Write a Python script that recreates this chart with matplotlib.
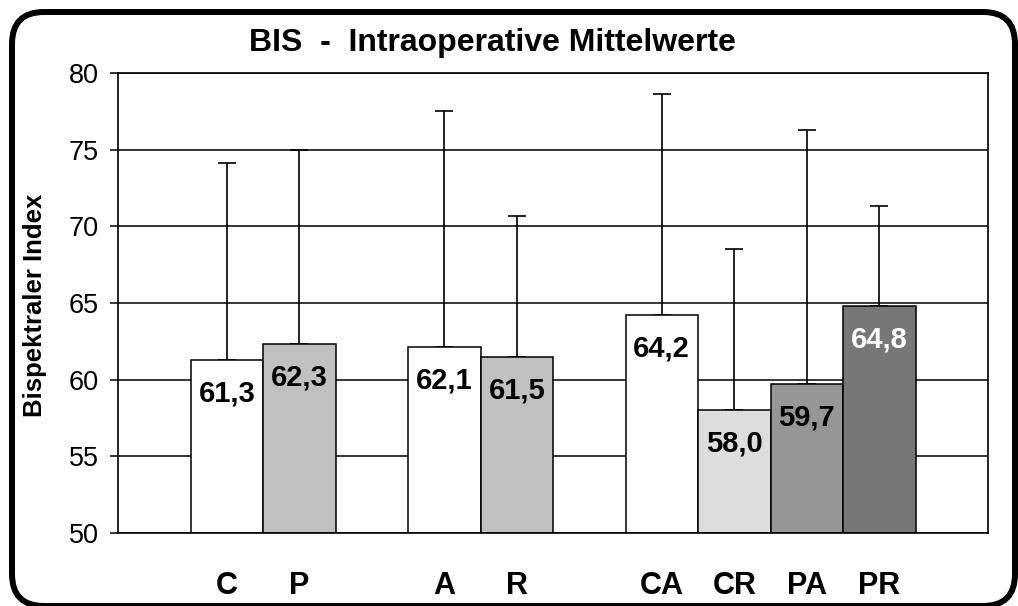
import matplotlib
matplotlib.use("Agg")
import matplotlib.pyplot as plt
from matplotlib.patches import FancyBboxPatch
import numpy as np

plt.rcParams['font.family'] = ['Liberation Sans', 'DejaVu Sans']

# ---- data ----
categories = ["C", "P", "A", "R", "CA", "CR", "PA", "PR"]
groups = [["C", "P"], ["A", "R"], ["CA", "CR", "PA", "PR"]]
means = [61.3, 62.3, 62.1, 61.5, 64.2, 58.0, 59.7, 64.8]
sd = [12.8, 12.7, 15.4, 9.2, 14.4, 10.5, 16.6, 6.5]
bar_colors = ["#ffffff", "#c0c0c0", "#ffffff", "#c0c0c0",
              "#ffffff", "#dddddd", "#969696", "#777777"]
label_colors = ["black"] * 7 + ["white"]
yticks = [50, 55, 60, 65, 70, 75, 80]
title = "BIS  -  Intraoperative Mittelwerte"
ylabel = "Bispektraler Index"

# slot positions: one empty slot before each group and after the last
positions = []
slot = 0
for g in groups:
    slot += 1
    for _ in g:
        positions.append(slot + 0.5)
        slot += 1
n_slots = slot + 1

fig = plt.figure(figsize=(10.18, 6.06), dpi=100)

# background frame
bg = fig.add_axes([0, 0, 1, 1])
bg.set_xlim(0, 1018)
bg.set_ylim(606, 0)
bg.axis("off")
bg.add_patch(FancyBboxPatch((12, 12), 1003, 594,
                            boxstyle="round,pad=0,rounding_size=32",
                            fill=False, edgecolor="black", linewidth=4.3,
                            clip_on=False))

ax = fig.add_axes([118 / 1018, 1 - 533 / 606, 870 / 1018, 460 / 606])
ax.set_xlim(0, n_slots)
ax.set_ylim(50, 80)
ax.set_axisbelow(True)

bars = ax.bar(positions, [m - 50 for m in means], bottom=50, width=1.0,
              color=bar_colors, edgecolor="black", linewidth=1.1, zorder=2)
ax.errorbar(positions, means, yerr=[np.zeros(len(sd)), sd], fmt="none",
            ecolor="black", elinewidth=1.2, capsize=6.5, capthick=1.2, zorder=1.5)

for x, m, c in zip(positions, means, label_colors):
    ax.annotate(f"{m:.1f}".replace(".", ","), (x, m), xytext=(0, -24),
                textcoords="offset points", ha="center", va="center",
                fontsize=21, fontweight="bold", color=c, zorder=3)

ax.set_yticks(yticks)
ax.set_yticklabels([str(t) for t in yticks], fontsize=19.5)
ax.yaxis.grid(True, color="black", linewidth=1.1)
ax.tick_params(axis="y", direction="out", length=6, width=1.1, pad=8)
ax.set_xticks(positions)
ax.set_xticklabels(categories, fontsize=22, fontweight="bold")
ax.tick_params(axis="x", length=0, pad=27)
for s in ax.spines.values():
    s.set_linewidth(1.2)
    s.set_color("black")

fig.text(492 / 1018, 1 - 43 / 606, title, ha="center", va="center",
         fontsize=23, fontweight="bold")
fig.text(35 / 1018, 1 - 305 / 606, ylabel, ha="center", va="center",
         rotation=90, fontsize=18.5, fontweight="bold")

fig.savefig("out.png", dpi=100)
